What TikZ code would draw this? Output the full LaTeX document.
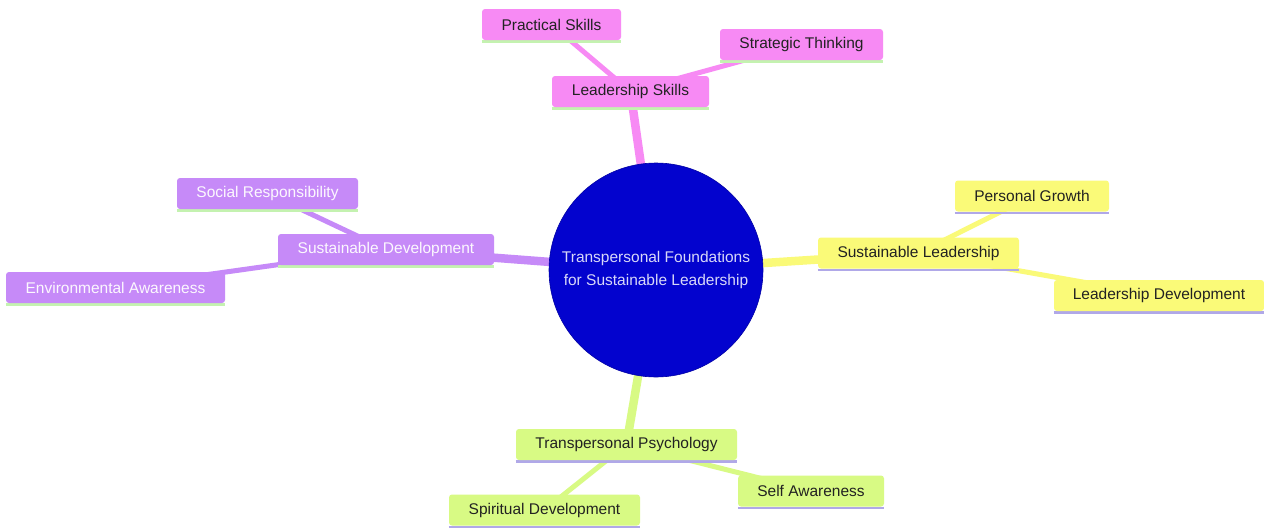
\documentclass[tikz,border=0pt]{standalone}
\usepackage{fontspec}
\setmainfont{Liberation Sans}
\definecolor{pinkf}{HTML}{F78AF4}
\definecolor{purf}{HTML}{C68AF8}
\definecolor{yelf}{HTML}{FAFA78}
\definecolor{grnf}{HTML}{D8FA84}
\definecolor{lgrn}{HTML}{C4F2B0}
\definecolor{lpur}{HTML}{B0A8E8}
\definecolor{ctr}{HTML}{0303CE}
\definecolor{ctrtxt}{HTML}{D8D8F8}
\definecolor{txtd}{HTML}{222222}
\tikzset{
  x=1pt, y=-1pt,
  every node/.style={font=\fontsize{15.5}{18}\selectfont, inner sep=0pt},
  mmbox/.style={rounded corners=3pt, minimum height=31pt, text=txtd},
  pinkbox/.style={mmbox, fill=pinkf, append after command={
      \pgfextra{\draw[lgrn, line width=2.5pt] ([yshift=-1.2pt]\tikzlastnode.south west) -- ([yshift=-1.2pt]\tikzlastnode.south east);}}},
  purbox/.style={mmbox, fill=purf, text=white!94!purf, append after command={
      \pgfextra{\draw[lgrn, line width=2.5pt] ([yshift=-1.2pt]\tikzlastnode.south west) -- ([yshift=-1.2pt]\tikzlastnode.south east);}}},
  yelbox/.style={mmbox, fill=yelf, append after command={
      \pgfextra{\draw[lpur, line width=2.5pt] ([yshift=-1.2pt]\tikzlastnode.south west) -- ([yshift=-1.2pt]\tikzlastnode.south east);}}},
  grnbox/.style={mmbox, fill=grnf, append after command={
      \pgfextra{\draw[lpur, line width=2.5pt] ([yshift=-1.2pt]\tikzlastnode.south west) -- ([yshift=-1.2pt]\tikzlastnode.south east);}}},
  mainedge/.style={line width=8.5pt},
  subedge/.style={line width=5pt},
}
\begin{document}
\begin{tikzpicture}
\useasboundingbox (0,0) rectangle (1264,528);
\fill[white] (0,0) rectangle (1264,528);
% coordinates of node centres
\coordinate (cC) at (656,270);
\coordinate (cLS) at (630.5,91.5);
\coordinate (cPS) at (551.5,24.5);
\coordinate (cST) at (801.5,44.5);
\coordinate (cSD) at (386,249.5);
\coordinate (cSR) at (267.5,193.5);
\coordinate (cEA) at (115.5,287.5);
\coordinate (cSL) at (918.5,253);
\coordinate (cPG) at (1032,196);
\coordinate (cLD) at (1159,295.5);
\coordinate (cTP) at (626.5,444.5);
\coordinate (cSA) at (811,491);
\coordinate (cSP) at (544.5,510);
% edges
\draw[pinkf, mainedge] (cC) -- (cLS);
\draw[pinkf, subedge] (cLS) -- (cPS);
\draw[pinkf, subedge] (cLS) -- (cST);
\draw[purf, mainedge] (cC) -- (cSD);
\draw[purf, subedge] (cSD) -- (cSR);
\draw[purf, subedge] (cSD) -- (cEA);
\draw[yelf, mainedge] (cC) -- (cSL);
\draw[yelf, subedge] (cSL) -- (cPG);
\draw[yelf, subedge] (cSL) -- (cLD);
\draw[grnf, mainedge] (cC) -- (cTP);
\draw[grnf, subedge] (cTP) -- (cSA);
\draw[grnf, subedge] (cTP) -- (cSP);
% nodes
\node[circle, fill=ctr, draw=ctr!80!black, line width=0.6pt, minimum size=214pt, text=ctrtxt, align=center, font=\fontsize{15.5}{23}\selectfont] (C) at (cC) {Transpersonal Foundations\\for Sustainable Leadership};
\node[pinkbox, minimum width=157pt] (LS) at (cLS) {Leadership Skills};
\node[pinkbox, minimum width=139pt] (PS) at (cPS) {Practical Skills};
\node[pinkbox, minimum width=163pt] (ST) at (cST) {Strategic Thinking};
\node[purbox, minimum width=216pt] (SD) at (cSD) {Sustainable Development};
\node[purbox, minimum width=181pt] (SR) at (cSR) {Social Responsibility};
\node[purbox, minimum width=219pt] (EA) at (cEA) {Environmental Awareness};
\node[yelbox, minimum width=201pt] (SL) at (cSL) {Sustainable Leadership};
\node[yelbox, minimum width=154pt] (PG) at (cPG) {Personal Growth};
\node[yelbox, minimum width=210pt] (LD) at (cLD) {Leadership Development};
\node[grnbox, minimum width=221pt] (TP) at (cTP) {Transpersonal Psychology};
\node[grnbox, minimum width=146pt] (SA) at (cSA) {Self Awareness};
\node[grnbox, minimum width=191pt] (SP) at (cSP) {Spiritual Development};
\end{tikzpicture}
\end{document}
